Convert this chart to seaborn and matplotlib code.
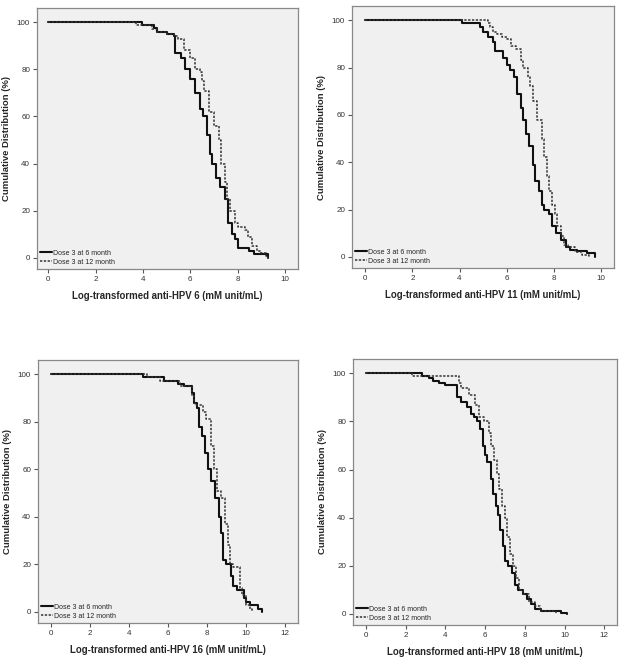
import matplotlib
matplotlib.use("Agg")
import matplotlib.pyplot as plt
import pandas as pd
import seaborn as sb

sb.set_style("white")
plt.rcParams['font.family'] = ['Liberation Sans', 'DejaVu Sans']

groups = ["Dose 3 at 6 month", "Dose 3 at 12 month"]

# HPV 6
hpv6_x_6m = [0, 3.95, 4.45, 4.6, 5.0, 5.3, 5.35, 5.6, 5.8, 6.0, 6.2, 6.4, 6.55, 6.7, 6.85, 6.9, 7.1, 7.25, 7.45, 7.6, 7.75, 7.9, 8.0, 8.5, 8.7, 9.3]
hpv6_y_6m = [100, 99, 97.5, 96, 95, 94, 87, 85, 80, 76, 70, 63, 60, 52, 44, 40, 34, 30, 25, 15, 10, 8, 4, 3, 1.5, 0]
hpv6_x_12m = [0, 3.7, 4.4, 4.6, 5.0, 5.3, 5.5, 5.75, 6.0, 6.2, 6.4, 6.5, 6.6, 6.8, 7.0, 7.2, 7.3, 7.45, 7.55, 7.7, 7.9, 8.0, 8.3, 8.45, 8.6, 8.8, 9.0, 9.2, 9.3]
hpv6_y_12m = [100, 99, 97, 96, 95, 94, 93, 88, 85, 80, 79, 75, 71, 62, 56, 50, 40, 32, 25, 20, 15, 13, 12, 9, 5, 3, 2, 1, 0]

# HPV 11
hpv11_x_6m = [0, 4.1, 4.85, 5.0, 5.2, 5.4, 5.5, 5.85, 6.0, 6.15, 6.3, 6.45, 6.6, 6.7, 6.8, 6.95, 7.1, 7.2, 7.35, 7.5, 7.6, 7.8, 7.9, 8.1, 8.3, 8.5, 8.7, 9.0, 9.4, 9.75]
hpv11_y_6m = [100, 99, 97, 95, 93, 91, 87, 84, 81, 79, 76, 69, 63, 58, 52, 47, 39, 32, 28, 22, 20, 18, 13, 10, 7, 4, 3, 2.5, 1.5, 0]
hpv11_x_12m = [0, 5.2, 5.3, 5.4, 5.6, 5.8, 6.0, 6.2, 6.4, 6.6, 6.7, 6.9, 7.0, 7.1, 7.3, 7.5, 7.6, 7.7, 7.8, 7.9, 8.05, 8.15, 8.3, 8.45, 8.6, 8.9, 9.2, 9.5]
hpv11_y_12m = [100, 99, 97, 95, 94, 93, 92, 89, 88, 83, 80, 76, 72, 66, 58, 50, 42, 34, 28, 22, 18, 13, 9, 5, 4, 2, 1, 0]

# HPV 16
hpv16_x_6m = [0, 4.7, 5.8, 6.5, 6.8, 7.2, 7.3, 7.5, 7.6, 7.75, 7.9, 8.05, 8.2, 8.4, 8.6, 8.7, 8.8, 8.95, 9.2, 9.35, 9.55, 9.9, 10.0, 10.2, 10.6, 10.8]
hpv16_y_6m = [100, 99, 97, 96, 95, 92, 88, 86, 78, 74, 67, 60, 55, 48, 40, 33, 22, 20, 15, 11, 9, 6, 4, 3, 1, 0]
hpv16_x_12m = [0, 4.9, 5.6, 6.6, 7.2, 7.3, 7.4, 7.8, 7.95, 8.2, 8.35, 8.5, 8.7, 8.9, 9.05, 9.15, 9.35, 9.7, 9.8, 10.0, 10.2, 10.3]
hpv16_y_12m = [100, 99, 97, 95, 91, 88, 87, 84, 81, 70, 60, 51, 48, 37, 28, 20, 19, 10, 7, 3, 1, 0]

# HPV 18
hpv18_x_6m = [0, 2.8, 3.2, 3.4, 3.7, 4.0, 4.6, 4.8, 5.1, 5.3, 5.45, 5.6, 5.75, 5.9, 6.0, 6.1, 6.3, 6.4, 6.55, 6.65, 6.75, 6.9, 7.0, 7.15, 7.35, 7.5, 7.65, 7.9, 8.1, 8.3, 8.5, 8.8, 9.8, 10.1]
hpv18_y_6m = [100, 99, 98, 97, 96, 95, 90, 88, 86, 83, 82, 80, 77, 70, 66, 63, 56, 50, 45, 41, 35, 28, 22, 20, 17, 12, 10, 8, 6, 4, 2, 1, 0.5, 0]
hpv18_x_12m = [0, 2.3, 4.7, 4.8, 5.2, 5.5, 5.7, 5.95, 6.2, 6.3, 6.45, 6.6, 6.7, 6.85, 7.0, 7.1, 7.25, 7.4, 7.55, 7.7, 7.9, 8.2, 8.5, 8.75, 9.0, 9.55]
hpv18_y_12m = [100, 99, 96, 94, 91, 87, 82, 80, 75, 70, 64, 58, 52, 45, 40, 32, 25, 20, 15, 10, 8, 5, 3, 1, 1, 0]

panels = [
    ("Log-transformed anti-HPV 6 (mM unit/mL)", hpv6_x_6m, hpv6_y_6m, hpv6_x_12m, hpv6_y_12m, 10),
    ("Log-transformed anti-HPV 11 (mM unit/mL)", hpv11_x_6m, hpv11_y_6m, hpv11_x_12m, hpv11_y_12m, 10),
    ("Log-transformed anti-HPV 16 (mM unit/mL)", hpv16_x_6m, hpv16_y_6m, hpv16_x_12m, hpv16_y_12m, 12),
    ("Log-transformed anti-HPV 18 (mM unit/mL)", hpv18_x_6m, hpv18_y_6m, hpv18_x_12m, hpv18_y_12m, 12),
]

W, H = 624, 660
# axes boxes in pixels: left, top, right, bottom
boxes = [(37, 8, 298, 269), (352, 6, 614, 268), (38, 360, 298, 623), (353, 359, 617, 625)]
xlims = [(-0.47, 10.55), (-0.56, 10.55), (-0.68, 12.66), (-0.65, 12.64)]

fig = plt.figure(figsize=(W / 100, H / 100), dpi=100)

for (label, x6, y6, x12, y12, xmax), (l, t, r, b), xl in zip(panels, boxes, xlims):
    ax = fig.add_axes([l / W, 1 - b / H, (r - l) / W, (b - t) / H])
    ax.set_facecolor("#f0f0f0")
    df6 = pd.DataFrame({"x": x6, "pct": y6})
    df12 = pd.DataFrame({"x": x12, "pct": y12})
    sb.lineplot(data=df6, x="x", y="pct", ax=ax, color="#111111", lw=1.5,
                drawstyle="steps-post", estimator=None, sort=False, label=groups[0])
    sb.lineplot(data=df12, x="x", y="pct", ax=ax, color="#333333", lw=1.1,
                drawstyle="steps-post", estimator=None, sort=False, label=groups[1],
                linestyle=(0, (1.5, 1)))
    ax.set_xlim(*xl)
    ax.set_ylim(-4.7, 106)
    ax.set_xticks(range(0, xmax + 1, 2))
    ax.set_yticks(range(0, 101, 20))
    ax.tick_params(axis="both", direction="out", length=3, width=0.8, color="#555555",
                   labelsize=5.8, labelcolor="#333333", pad=2, left=True, bottom=True)
    for s in ax.spines.values():
        s.set_color("#888888")
        s.set_linewidth(0.9)
    ax.set_xlabel(label, fontsize=6.9, fontweight="bold", labelpad=6)
    ax.set_ylabel("Cumulative Distribution (%)", fontsize=6.8, fontweight="bold", labelpad=4)
    ax.legend(loc="lower left", frameon=False, fontsize=5, handlelength=1.6,
              handletextpad=0.2, labelspacing=0.25, borderpad=0.2, borderaxespad=0.3)

plt.savefig("out.png", dpi=100)
